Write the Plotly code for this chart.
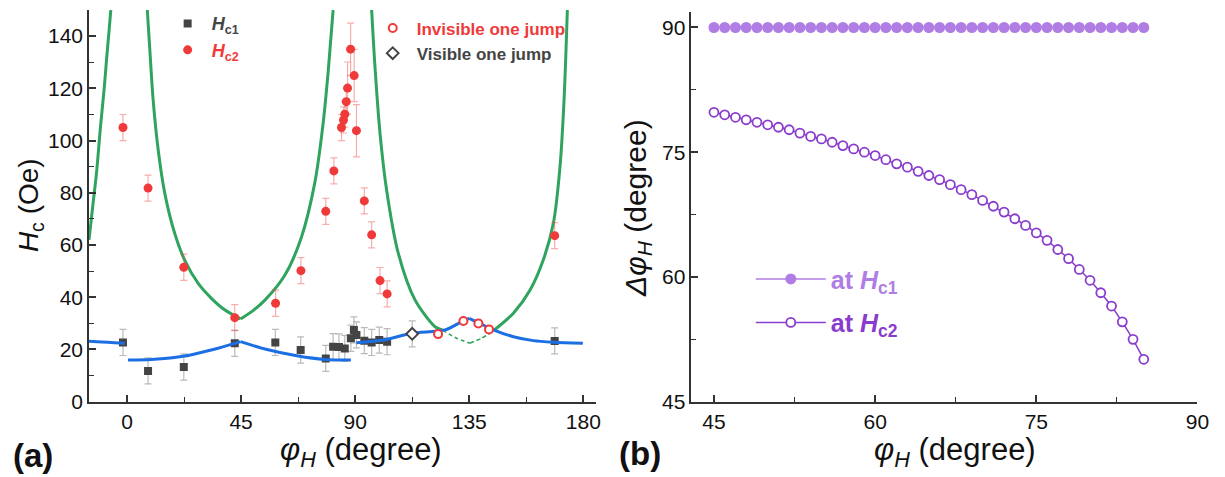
import plotly.graph_objects as go

# ---------------- Panel (a) data ----------------
hc1_phi = [-1.6, 8.3, 22.4, 42.5, 58.5, 68.5, 78.4, 81.3, 83.6, 85.9, 88.3, 89.5, 90.5, 93.6, 96.5, 99.5, 102.6, 168.7]
hc1_val = [22.7, 11.8, 13.3, 22.4, 22.7, 19.8, 16.6, 21.1, 21.0, 20.4, 24.3, 27.5, 25.6, 23.4, 22.7, 23.6, 23.0, 23.3]
hc1_err = [5, 5, 5, 5, 5, 5, 5, 5, 5, 5, 5, 5, 5, 5, 5, 5, 5, 5]

hc2_phi = [-1.6, 8.3, 22.4, 42.5, 58.6, 68.6, 78.4, 81.6, 84.6, 85.4, 85.9, 86.5, 87.0, 88.2, 89.6, 90.5, 93.6, 96.5, 99.8, 102.6, 168.7]
hc2_val = [105.0, 81.8, 51.5, 32.2, 37.7, 50.2, 72.9, 88.4, 105.0, 107.9, 110.1, 114.9, 120.1, 135.0, 124.9, 103.8, 76.9, 63.9, 46.4, 41.3, 63.6]
hc2_err = [5, 5, 5, 5, 5, 5, 5, 5, 5, 5, 5, 5, 10, 10, 10, 10, 5, 5, 5, 5, 5]

inv_phi = [122.7, 132.7, 138.6, 142.8]
inv_val = [25.9, 30.9, 30.0, 27.7]

vis_phi = [112.5]
vis_val = [26.0]
vis_err = [5]

# theory curves (None splits a curve at a cusp)
g_left_phi = [-15, -13.5, -12, -10.5, -9, -8, -7, -6.4]
g_left_val = [62, 75, 88, 105, 120, 132, 143, 150]
g_mid_phi = [8.0, 9.0, 10.3, 12.3, 14.9, 18.8, 22.7, 28.0, 33.3, 38.5, 44.8, None,
             44.8, 49.7, 54.4, 62.3, 68.8, 74.1, 77.4, 79.4, 81.3]
g_mid_val = [150, 134.7, 115.6, 96.4, 79.8, 64.5, 54.3, 45.4, 39.6, 35.2, 31.7, None,
             31.7, 34.9, 38.9, 48.5, 63.0, 84.0, 107.0, 127.0, 150]
g_r1_phi = [96.5, 97.8, 99.8, 102.4, 107.0, 113.6, 121.5, 124.5]
g_r1_val = [150, 128.4, 102.8, 81.1, 56.9, 39.0, 28.7, 27.4]
g_dash_phi = [124.5, 130.0, 135.2, None, 135.2, 139.9, 144.8]
g_dash_val = [27.4, 24.3, 22.4, None, 22.4, 24.3, 27.4]
g_r2_phi = [144.8, 152.4, 159.0, 164.2, 168.2, 170.8, 172.4, 173.7]
g_r2_val = [27.4, 33.9, 42.8, 54.3, 68.4, 90.0, 115.6, 150]

b1_phi = [-15, -10, -5, -0.9]
b1_val = [23.2, 22.9, 22.6, 22.4]
b2_phi = [0.4, 9.6, 22.8, 35.9, 44.8, None, 44.8, 54.4, 67.5, 78.0, 88.3]
b2_val = [16.0, 16.2, 17.5, 20.5, 23.0, None, 23.0, 20.2, 17.5, 16.2, 16.0]
b3_phi = [90.5, 101.1, 112.3, 125.4, 132.1, 135.0, None, 135.0, 139.2, 144.5, 152.4, 160.3, 168.2, 179.8]
b3_val = [22.6, 23.6, 26.2, 27.5, 30.7, 31.9, None, 31.9, 30.0, 27.5, 24.9, 23.4, 22.8, 22.4]

# ---------------- Panel (b) data ----------------
phi_b = [45, 46, 47, 48, 49, 50, 51, 52, 53, 54, 55, 56, 57, 58, 59, 60, 61, 62, 63, 64, 65,
         66, 67, 68, 69, 70, 71, 72, 73, 74, 75, 76, 77, 78, 79, 80, 81, 82, 83, 84, 85]
dphi_hc1 = [90] * 41
dphi_hc2 = [79.8, 79.5, 79.2, 78.9, 78.6, 78.3, 78.0, 77.7, 77.3, 76.9, 76.6, 76.2, 75.8, 75.4,
            75.0, 74.6, 74.1, 73.6, 73.2, 72.7, 72.2, 71.7, 71.1, 70.5, 69.9, 69.2, 68.5, 67.8,
            67.0, 66.2, 65.3, 64.4, 63.3, 62.2, 60.9, 59.6, 58.1, 56.5, 54.6, 52.5, 50.1]

# ---------------- styles ----------------
FONT = "Liberation Sans"
GREEN = "#2FA45E"
BLUE = "#1C6FE3"
RED = "#F03A3A"
DARK = "#444444"
LPURPLE = "#B07DE4"
DPURPLE = "#8A3DCC"
AX = "#333333"

fig = go.Figure()

# green theory
for xs, ys in [(g_left_phi, g_left_val), (g_mid_phi, g_mid_val), (g_r1_phi, g_r1_val), (g_r2_phi, g_r2_val)]:
    fig.add_trace(go.Scatter(x=xs, y=ys, mode="lines", line=dict(color=GREEN, width=3, shape="spline", smoothing=0.8),
                             showlegend=False, hoverinfo="skip", xaxis="x", yaxis="y"))
fig.add_trace(go.Scatter(x=g_dash_phi, y=g_dash_val, mode="lines",
                         line=dict(color=GREEN, width=1.6, dash="4px,3px", shape="spline", smoothing=0.6),
                         showlegend=False, hoverinfo="skip", xaxis="x", yaxis="y"))

# Hc1 squares
fig.add_trace(go.Scatter(x=hc1_phi, y=hc1_val, mode="markers",
                         marker=dict(symbol="square", size=8, color=DARK),
                         error_y=dict(type="data", array=hc1_err, visible=True, color="rgba(140,140,140,0.6)", thickness=1.2, width=3.5),
                         name='<span style="color:#444444"><b><i>H</i><sub>c1</sub></b></span>',
                         legend="legend", xaxis="x", yaxis="y"))
# blue theory
for xs, ys in [(b1_phi, b1_val), (b2_phi, b2_val), (b3_phi, b3_val)]:
    fig.add_trace(go.Scatter(x=xs, y=ys, mode="lines", line=dict(color=BLUE, width=3, shape="spline", smoothing=0.8),
                             showlegend=False, hoverinfo="skip", xaxis="x", yaxis="y"))
# Hc2 red
fig.add_trace(go.Scatter(x=hc2_phi, y=hc2_val, mode="markers",
                         marker=dict(symbol="circle", size=9, color=RED),
                         error_y=dict(type="data", array=hc2_err, visible=True, color="rgba(240,70,70,0.45)", thickness=1.2, width=3.5),
                         name='<span style="color:#F03A3A"><b><i>H</i><sub>c2</sub></b></span>',
                         legend="legend", xaxis="x", yaxis="y"))
# invisible / visible one jump
fig.add_trace(go.Scatter(x=inv_phi, y=inv_val, mode="markers",
                         marker=dict(symbol="circle", size=8, color="white", line=dict(color=RED, width=2)),
                         name='<span style="color:#F03A3A"><b>Invisible one jump</b></span>',
                         legend="legend2", xaxis="x", yaxis="y"))
fig.add_trace(go.Scatter(x=vis_phi, y=vis_val, mode="markers",
                         marker=dict(symbol="diamond", size=9, color="white", line=dict(color=DARK, width=2)),
                         error_y=dict(type="data", array=vis_err, visible=True, color="rgba(140,140,140,0.6)", thickness=1.2, width=3.5),
                         name='<span style="color:#444444"><b>Visible one jump</b></span>',
                         legend="legend2", xaxis="x", yaxis="y"))

# panel (b)
fig.add_trace(go.Scatter(x=phi_b, y=dphi_hc1, mode="lines+markers",
                         line=dict(color=LPURPLE, width=1.5),
                         marker=dict(symbol="circle", size=11, color=LPURPLE),
                         name='<span style="color:#B07DE4"><b>at <i>H</i><sub>c1</sub></b></span>',
                         legend="legend3", legendgroup="a", xaxis="x2", yaxis="y2"))
fig.add_trace(go.Scatter(x=phi_b, y=dphi_hc2, mode="lines+markers",
                         line=dict(color=DPURPLE, width=1.5),
                         marker=dict(symbol="circle", size=9, color="white", line=dict(color=DPURPLE, width=1.8)),
                         name='<span style="color:#8A3DCC"><b>at <i>H</i><sub>c2</sub></b></span>',
                         legend="legend3", legendgroup="b", xaxis="x2", yaxis="y2"))

axis_common = dict(showline=True, linecolor=AX, linewidth=1.5, ticks="inside", ticklen=7, tickwidth=1.5,
                   tickcolor=AX, showgrid=False, zeroline=False, mirror=False, automargin=False,
                   tickfont=dict(family=FONT, size=21, color="#111111"))

fig.update_layout(
    width=1225, height=477,
    margin=dict(l=0, r=0, t=0, b=0, autoexpand=False),
    paper_bgcolor="white", plot_bgcolor="white",
    font=dict(family=FONT, color="#111111"),
    xaxis=dict(domain=[0.07265, 0.48653], range=[-15, 185], tickmode="linear", tick0=0, dtick=45,
               minor=dict(ticks="inside", ticklen=5, tickwidth=1.2, tickcolor=AX, dtick=22.5, tick0=0),
               anchor="y", **axis_common),
    yaxis=dict(domain=[0.1578, 0.979], range=[0, 150], tickmode="linear", tick0=0, dtick=20,
               minor=dict(ticks="inside", ticklen=5, tickwidth=1.2, tickcolor=AX, dtick=10, tick0=0),
               anchor="x", **axis_common),
    xaxis2=dict(domain=[0.5644, 0.97755], range=[42.9, 90], tickmode="linear", tick0=45, dtick=15,
                minor=dict(ticks="inside", ticklen=5, tickwidth=1.2, tickcolor=AX, dtick=7.5, tick0=45),
                anchor="y2", **axis_common),
    yaxis2=dict(domain=[0.1579, 0.9755], range=[45, 91.9], tickmode="linear", tick0=45, dtick=15,
                minor=dict(ticks="inside", ticklen=5, tickwidth=1.2, tickcolor=AX, dtick=7.5, tick0=45),
                anchor="x2", **axis_common),
    legend=dict(x=0.1336, y=0.989, xanchor="left", yanchor="top", bgcolor="rgba(0,0,0,0)",
                font=dict(family=FONT, size=18), itemwidth=38, tracegroupgap=0),
    legend2=dict(x=0.301, y=0.978, xanchor="left", yanchor="top", bgcolor="rgba(0,0,0,0)",
                 font=dict(family=FONT, size=17), itemwidth=38, tracegroupgap=0),
    legend3=dict(x=0.6129, y=0.463, xanchor="left", yanchor="top", bgcolor="rgba(0,0,0,0)",
                 font=dict(family=FONT, size=25), itemwidth=70, tracegroupgap=8),
    showlegend=True,
)

ann_font = dict(family=FONT, size=31, color="#111111")
fig.add_annotation(text="<b>(a)</b>", x=0.0273, y=0.046, xref="paper", yref="paper", showarrow=False,
                   font=dict(family=FONT, size=33, color="#111111"), xanchor="center", yanchor="middle")
fig.add_annotation(text="<b>(b)</b>", x=0.5224, y=0.050, xref="paper", yref="paper", showarrow=False,
                   font=dict(family=FONT, size=33, color="#111111"), xanchor="center", yanchor="middle")
fig.add_annotation(text="<i>φ<sub>H</sub></i> (degree)", x=0.2945, y=0.053, xref="paper", yref="paper",
                   showarrow=False, font=ann_font, xanchor="center", yanchor="middle")
fig.add_annotation(text="<i>φ<sub>H</sub></i> (degree)", x=0.7793, y=0.053, xref="paper", yref="paper",
                   showarrow=False, font=ann_font, xanchor="center", yanchor="middle")
fig.add_annotation(text="<i>H</i><sub>c</sub> (Oe)", x=0.0245, y=0.570, xref="paper", yref="paper",
                   showarrow=False, font=dict(family=FONT, size=28, color="#111111"), textangle=-90,
                   xanchor="center", yanchor="middle")
fig.add_annotation(text="<i>Δφ<sub>H</sub></i> (degree)", x=0.5208, y=0.564, xref="paper", yref="paper",
                   showarrow=False, font=dict(family=FONT, size=30, color="#111111"), textangle=-90,
                   xanchor="center", yanchor="middle")

fig.write_html("out.html", config={"displayModeBar": False},
               post_script="document.body.style.margin='0';document.body.style.padding='0';")
